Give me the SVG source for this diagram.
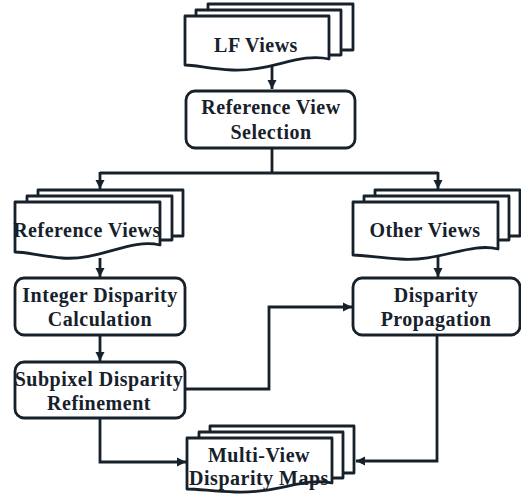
<svg xmlns="http://www.w3.org/2000/svg" width="521" height="494" viewBox="0 0 521 494">
<style>
.s{fill:#fff;stroke:#17212b;stroke-width:2.8;stroke-linejoin:round}
.c{fill:none;stroke:#17212b;stroke-width:2.8}
text{font-family:"Liberation Serif","Times New Roman",serif;font-weight:bold;font-size:20px;fill:#17212b;text-anchor:middle;letter-spacing:0.5px}
</style>
<defs>
<marker id="a" markerUnits="userSpaceOnUse" markerWidth="10" markerHeight="10" refX="9" refY="5" orient="auto">
<path d="M0,0.5 L9,5 L0,9.5 z" fill="#17212b"/>
</marker>
</defs>
<g id="connectors">
<path class="c" d="M272,63 V89" marker-end="url(#a)"/>
<path class="c" d="M272,148 V173 M100,173 H438"/>
<path class="c" d="M100,172 V189" marker-end="url(#a)"/>
<path class="c" d="M438,172 V189" marker-end="url(#a)"/>
<path class="c" d="M100,258 V277" marker-end="url(#a)"/>
<path class="c" d="M438,255 V277" marker-end="url(#a)"/>
<path class="c" d="M100,335 V361" marker-end="url(#a)"/>
<path class="c" d="M185,389 H269 V307 H352" marker-end="url(#a)"/>
<path class="c" d="M100,418 V462 H186" marker-end="url(#a)"/>
<path class="c" d="M437,335 V461 H356" marker-end="url(#a)"/>
</g>
<g id="lf-views">
<rect class="s" x="208" y="4" width="145" height="46"/>
<rect class="s" x="196" y="10" width="145" height="45"/>
<path class="s" d="M185,16 H329 V59 C300,52 270,72 232,70 C210,69 196,65 185,65 Z"/>
<text x="256" y="52">LF Views</text>
</g>
<g id="reference-view-selection">
<rect class="s" x="186" y="91" width="169" height="57" rx="9"/>
<text x="271" y="114">Reference View</text>
<text x="271" y="139">Selection</text>
</g>
<g id="reference-views">
<rect class="s" x="38" y="190" width="145" height="46"/>
<rect class="s" x="27" y="196" width="145" height="44"/>
<path class="s" d="M15,202 H160 V245 C130,238 100,261 62,258 C40,256 26,252 15,252 Z"/>
<text x="87" y="237">Reference Views</text>
</g>
<g id="other-views">
<rect class="s" x="375" y="190" width="145" height="46"/>
<rect class="s" x="364" y="196" width="145" height="44"/>
<path class="s" d="M353,202 H498 V249 C470,242 440,262 400,259 C380,258 364,255 353,255 Z"/>
<text x="425" y="237">Other Views</text>
</g>
<g id="integer-disparity-calculation">
<rect class="s" x="15" y="278" width="170" height="57" rx="9"/>
<text x="100" y="302">Integer Disparity</text>
<text x="100" y="326">Calculation</text>
</g>
<g id="disparity-propagation">
<rect class="s" x="353" y="278" width="167" height="57" rx="9"/>
<text x="436" y="302">Disparity</text>
<text x="436" y="326">Propagation</text>
</g>
<g id="subpixel-disparity-refinement">
<rect class="s" x="15" y="362" width="170" height="56" rx="9"/>
<text x="99" y="386">Subpixel Disparity</text>
<text x="99" y="410">Refinement</text>
</g>
<g id="multi-view-disparity-maps">
<rect class="s" x="210" y="426" width="144" height="47"/>
<rect class="s" x="199" y="432" width="144" height="46"/>
<path class="s" d="M187,438 H332 V483 C305,477 275,494 235,492 C212,491 198,489 187,489 Z"/>
<text x="259" y="462">Multi-View</text>
<text x="259" y="485">Disparity Maps</text>
</g>
</svg>
